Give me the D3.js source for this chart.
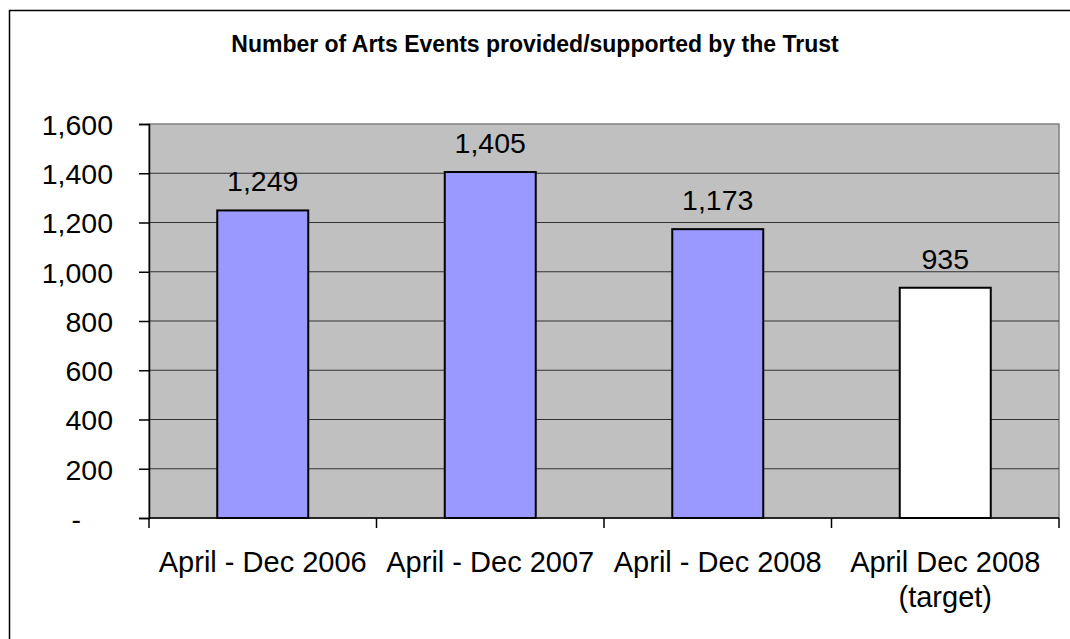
<!DOCTYPE html>
<html><head><meta charset="utf-8">
<script src="https://cdn.jsdelivr.net/npm/d3@7/dist/d3.min.js"></script>
<style>body{margin:0;background:#fff}svg{display:block}text{font-family:"Liberation Sans",Arial,sans-serif}</style>
</head><body><svg id="c" width="1070" height="639"></svg>
<script>
const categories = [["April - Dec 2006"], ["April - Dec 2007"], ["April - Dec 2008"], ["April Dec 2008", "(target)"]];
const values = [1249, 1405, 1173, 935];
const barColors = ["#9999FF", "#9999FF", "#9999FF", "#FFFFFF"];
const yTicks = [0, 200, 400, 600, 800, 1000, 1200, 1400, 1600];
const title = "Number of Arts Events provided/supported by the Trust";

const svg = d3.select("#c");
const L = 149, R = 1059, T = 124, B = 518;
svg.append("rect").attr("x", 9.5).attr("y", 10.5).attr("width", 1200).attr("height", 800)
  .attr("fill", "#fff").attr("stroke", "#000").attr("stroke-width", 1.5);

const x = d3.scaleBand().domain(d3.range(values.length)).range([L, R]).paddingInner(0.6).paddingOuter(0.3);
const y = d3.scaleLinear().domain([0, 1600]).range([B, T]);

svg.append("rect").attr("x", L).attr("y", T).attr("width", R - L).attr("height", B - T)
  .attr("fill", "#C0C0C0").attr("stroke", "#808080").attr("stroke-width", 1.5);

svg.append("g").selectAll("line").data(yTicks.filter(d => d > 0 && d < 1600)).join("line")
  .attr("x1", L).attr("x2", R).attr("y1", d => y(d)).attr("y2", d => y(d))
  .attr("stroke", "#333").attr("stroke-width", 1.2);

svg.append("g").selectAll("rect").data(values).join("rect")
  .attr("x", (d, i) => x(i)).attr("width", x.bandwidth())
  .attr("y", d => y(d)).attr("height", d => B - y(d))
  .attr("fill", (d, i) => barColors[i]).attr("stroke", "#000").attr("stroke-width", 2);

// y axis
const ya = svg.append("g").attr("transform", `translate(${L},0)`)
  .call(d3.axisLeft(y).tickValues(yTicks).tickSize(10).tickPadding(26)
    .tickFormat(d => d === 0 ? "-" : d3.format(",")(d)));
ya.select(".domain").attr("stroke", "#000").attr("stroke-width", 1.5);
ya.selectAll(".tick line").attr("stroke", "#000").attr("stroke-width", 1.5);
ya.selectAll(".tick text").attr("font-size", 28.5).attr("fill", "#000")
  .attr("font-family", '"Liberation Sans",Arial,sans-serif').attr("dy", "0.36em");
ya.selectAll(".tick text").filter(d => d === 0).attr("dx", -32);

// x axis
const xa = svg.append("g").attr("transform", `translate(0,${B})`);
xa.append("line").attr("x1", L).attr("x2", R).attr("stroke", "#000").attr("stroke-width", 1.5);
const bounds = d3.range(values.length + 1).map(i => L + i * x.step());
xa.selectAll("line.t").data(bounds).join("line").attr("class", "t")
  .attr("x1", d => d).attr("x2", d => d).attr("y1", 0).attr("y2", 10)
  .attr("stroke", "#000").attr("stroke-width", 1.5);
const xl = svg.append("g").selectAll("text").data(categories).join("text")
  .attr("x", (d, i) => x(i) + x.bandwidth() / 2).attr("y", 572)
  .attr("text-anchor", "middle").attr("font-size", 29).attr("fill", "#000");
xl.each(function (d, i) {
  d3.select(this).selectAll("tspan").data(d).join("tspan")
    .attr("x", x(i) + x.bandwidth() / 2).attr("dy", (t, j) => j === 0 ? 0 : 35).text(t => t);
});

// data labels
svg.append("g").selectAll("text").data(values).join("text")
  .attr("x", (d, i) => x(i) + x.bandwidth() / 2).attr("y", d => y(d) - 19)
  .attr("text-anchor", "middle").attr("font-size", 28.5).attr("fill", "#000")
  .text(d => d3.format(",")(d));

svg.append("text").attr("x", 535).attr("y", 52).attr("text-anchor", "middle")
  .attr("font-size", 23).attr("font-weight", "bold").attr("fill", "#000").text(title);
</script></body></html>
